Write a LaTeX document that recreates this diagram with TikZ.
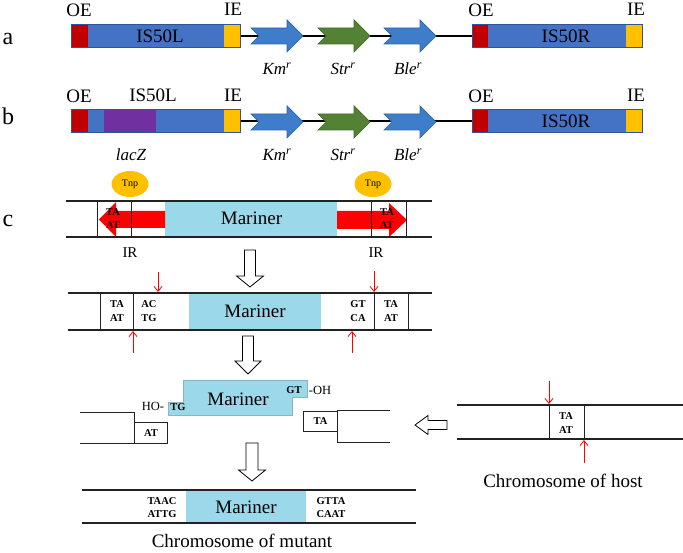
\documentclass[tikz,border=0pt]{standalone}
\usepackage{fontspec}
\setmainfont{LiberationSerif}[Extension=.ttf, UprightFont=*-Regular, BoldFont=*-Bold, ItalicFont=*-Italic, BoldItalicFont=*-BoldItalic]
\usetikzlibrary{shapes.geometric,arrows.meta}
\definecolor{isblue}{HTML}{4472C4}
\definecolor{isborder}{HTML}{2F5597}
\definecolor{isred}{HTML}{C00000}
\definecolor{isyellow}{HTML}{FFC000}
\definecolor{ispurple}{HTML}{7030A0}
\definecolor{kmblue}{HTML}{3D7DCA}
\definecolor{kmborder}{HTML}{2E64A8}
\definecolor{strgreen}{HTML}{548235}
\definecolor{strborder}{HTML}{3F6A27}
\definecolor{marblue}{HTML}{9AD8EA}
\definecolor{tnpgold}{HTML}{FFC000}
\definecolor{dnaline}{HTML}{222222}
\newcommand\myfs[2]{\fontsize{#1}{#2}\selectfont}
\tikzset{
  txt/.style={inner sep=0pt, font=\rmfamily\myfs{19}{19}},
  rowlbl/.style={inner sep=0pt, anchor=base, font=\rmfamily\myfs{24}{24}},
  genelbl/.style={inner sep=0pt, font=\rmfamily\myfs{17}{17}\itshape},
  bp/.style={inner sep=0pt, align=center, font=\rmfamily\myfs{10.5}{14}\bfseries},
  bpc/.style={inner sep=0pt, align=center, font=\rmfamily\myfs{10.5}{13}\bfseries},
  isbox/.style={draw=isborder, line width=0.8pt, fill=isblue, minimum height=23pt, anchor=north west, inner sep=0pt},
  dna/.style={draw=dnaline, line width=1.2pt},
  sepline/.style={draw=dnaline, line width=0.9pt},
  redarr/.style={draw=red, line width=0.8pt, -{Straight Barb[length=5pt,width=8pt]}},
  hollow/.style={draw=black, fill=white, line width=0.8pt, line join=miter},
  pics/gene/.style={code={\draw[pic actions, line width=0.7pt] (0,-8) -- (36,-8) -- (36,-16) -- (52,0) -- (36,16) -- (36,8) -- (0,8) -- (8,0) -- cycle;}}
}
\begin{document}
\begin{tikzpicture}[x=1pt,y=-1pt]
\useasboundingbox (0,0) rectangle (683,553);

% ---------- row a ----------
\node[rowlbl] (la) at (8,45) {a};
\node[isbox, minimum width=169pt] (La) at (71,24) {};
\node[isbox, minimum width=170pt] (Ra) at (472,24) {};
\draw[line width=1.4pt] (La.east) -- (Ra.west);
\fill[isred] (71,24) rectangle (88,47);
\fill[isyellow] (224,24) rectangle (240,47);
\fill[isred] (472,24) rectangle (488,47);
\fill[isyellow] (626,24) rectangle (642,47);
\draw[draw=isborder, line width=0.8pt] (71,24) rectangle (240,47);
\draw[draw=isborder, line width=0.8pt] (472,24) rectangle (642,47);
\node[txt] (tLa) at (160,36) {IS50L};
\node[txt] (tRa) at (566,36) {IS50R};
\node[txt] (oe1) at (79,10) {OE};
\node[txt] (ie1) at (233,9) {IE};
\node[txt] (oe2) at (481,10) {OE};
\node[txt] (ie2) at (636,9) {IE};
\pic[fill=kmblue, draw=kmborder] at (251,36) {gene};
\pic[fill=strgreen, draw=strborder] at (318,36) {gene};
\pic[fill=kmblue, draw=kmborder] at (384,36) {gene};
\node[genelbl] (km1) at (277,69) {Km\textsuperscript{r}};
\node[genelbl] (st1) at (343,69) {Str\textsuperscript{r}};
\node[genelbl] (bl1) at (408,69) {Ble\textsuperscript{r}};

% ---------- row b ----------
\node[rowlbl] (lb) at (8,125) {b};
\node[isbox, minimum width=169pt] (Lb) at (71,109) {};
\node[isbox, minimum width=170pt] (Rb) at (472,109) {};
\draw[line width=1.4pt] (Lb.east) -- (Rb.west);
\fill[isred] (71,109) rectangle (88,132);
\fill[ispurple] (104,109) rectangle (156,132);
\fill[isyellow] (224,109) rectangle (240,132);
\fill[isred] (472,109) rectangle (488,132);
\fill[isyellow] (626,109) rectangle (642,132);
\draw[draw=isborder, line width=0.8pt] (71,109) rectangle (240,132);
\draw[draw=isborder, line width=0.8pt] (472,109) rectangle (642,132);
\node[txt] (tLb) at (153,95) {IS50L};
\node[txt] (tRb) at (566,121) {IS50R};
\node[txt] (oe3) at (79,96) {OE};
\node[txt] (ie3) at (233,95) {IE};
\node[txt] (oe4) at (481,96) {OE};
\node[txt] (ie4) at (636,95) {IE};
\pic[fill=kmblue, draw=kmborder] at (251,122) {gene};
\pic[fill=strgreen, draw=strborder] at (318,122) {gene};
\pic[fill=kmblue, draw=kmborder] at (384,122) {gene};
\node[genelbl] (lacz) at (131,155) {lacZ};
\node[genelbl] (km2) at (277,155) {Km\textsuperscript{r}};
\node[genelbl] (st2) at (343,155) {Str\textsuperscript{r}};
\node[genelbl] (bl2) at (408,155) {Ble\textsuperscript{r}};

% ---------- row c ----------
\node[rowlbl] (lc) at (8,227) {c};
\fill[marblue] (165,201) rectangle (337,237);
\node[txt] (mar1) at (251.5,218) {Mariner};
\fill[red] (165,211) -- (116,211) -- (116,202) -- (99,219.5) -- (116,237) -- (116,228) -- (165,228) -- cycle;
\fill[red] (337,211) -- (389,211) -- (389,203) -- (407,220) -- (389,237) -- (389,229) -- (337,229) -- cycle;
\draw[dna] (66,201) -- (432,201);
\draw[dna] (66,237) -- (432,237);
\foreach \xx in {97,131,371,406} \draw[sepline] (\xx,201) -- (\xx,237);
\node[bpc] (ta1) at (113,219) {TA\\AT};
\node[bpc] (ta2) at (387,219) {TA\\AT};
\node[ellipse, fill=tnpgold, minimum width=37pt, minimum height=26pt, inner sep=0pt, font=\rmfamily\myfs{10}{10}] (tnp1) at (130,184) {Tnp};
\node[ellipse, fill=tnpgold, minimum width=37pt, minimum height=26pt, inner sep=0pt, font=\rmfamily\myfs{10}{10}] (tnp2) at (373,184) {Tnp};
\node[inner sep=0pt, font=\rmfamily\myfs{15}{15}] (ir1) at (130,253) {IR};
\node[inner sep=0pt, font=\rmfamily\myfs{15}{15}] (ir2) at (376,253) {IR};

% hollow down arrow 1
\draw[hollow] (244.5,250) -- (255.5,250) -- (255.5,276) -- (263.5,276) -- (250,287) -- (236.5,276) -- (244.5,276) -- cycle;

% ---------- row 2 ----------
\fill[marblue] (189,293) rectangle (321,330);
\node[txt] (mar2) at (255,311) {Mariner};
\draw[dna] (68,293) -- (432,293);
\draw[dna] (68,330) -- (432,330);
\foreach \xx in {100,133,374,408} \draw[sepline] (\xx,293) -- (\xx,330);
\node[bp] (ta3) at (117,311) {TA\\AT};
\node[bp] (ac) at (149,311) {AC\\TG};
\node[bp] (gt) at (358,311) {GT\\CA};
\node[bp] (ta4) at (391,311) {TA\\AT};
\coordinate (c1s) at (158,272); \coordinate (c1e) at (158,292);
\coordinate (c2s) at (133,353); \coordinate (c2e) at (133,331);
\coordinate (c3s) at (374,271); \coordinate (c3e) at (374,292);
\coordinate (c4s) at (352,353); \coordinate (c4e) at (352,331);
\draw[redarr] (c1s) -- (c1e);
\draw[redarr] (c2s) -- (c2e);
\draw[redarr] (c3s) -- (c3e);
\draw[redarr] (c4s) -- (c4e);

% hollow down arrow 2
\draw[hollow] (242.5,336) -- (253.5,336) -- (253.5,361) -- (261,361) -- (248,374) -- (235,361) -- (242.5,361) -- cycle;

% ---------- row 3 ----------
\fill[marblue, draw=marblue!85!black, line width=0.4pt] (183,380) -- (307,380) -- (307,397) -- (292,397) -- (292,415) -- (168,415) -- (168,402) -- (183,402) -- cycle;
\node[txt] (mar3) at (238,399) {Mariner};
\node[bp] (gt3) at (294,390) {GT};
\node[bp] (tg3) at (178,407) {TG};
\node[inner sep=0pt, font=\rmfamily\myfs{12.5}{12.5}] (oh) at (320,390) {-OH};
\node[inner sep=0pt, font=\rmfamily\myfs{12.5}{12.5}] (ho) at (153,406) {HO-};
% left broken end
\draw[sepline] (80,412) -- (134,412) -- (134,443);
\draw[sepline] (80,443) -- (167,443);
\node[draw=dnaline, line width=0.9pt, minimum width=33pt, minimum height=21pt, inner sep=0pt, anchor=north west, font=\rmfamily\myfs{10.5}{10.5}\bfseries] (at3) at (134,422) {AT};
% right broken end
\node[draw=dnaline, line width=0.9pt, minimum width=34pt, minimum height=20pt, inner sep=0pt, anchor=north west, font=\rmfamily\myfs{10.5}{10.5}\bfseries] (ta5) at (303,411) {TA};
\draw[sepline] (390,410) -- (337,410) -- (337,442) -- (390,442);

% hollow left arrow
\draw[hollow] (447,420.5) -- (428,420.5) -- (428,415.5) -- (415,425) -- (428,434.5) -- (428,429.5) -- (447,429.5) -- cycle;

% host chromosome
\draw[dna] (457,405) -- (683,405);
\draw[dna] (457,439) -- (683,439);
\draw[sepline] (549,405) -- (549,439);
\draw[sepline] (584,405) -- (584,439);
\node[bp] (ta6) at (566,423) {TA\\AT};
\coordinate (h1s) at (549,381); \coordinate (h1e) at (549,404);
\coordinate (h2s) at (584,463); \coordinate (h2e) at (584,440);
\draw[redarr] (h1s) -- (h1e);
\draw[redarr] (h2s) -- (h2e);
\node[txt] (host) at (563,481) {Chromosome of host};

% hollow down arrow 3
\draw[hollow] (246,443) -- (258,443) -- (258,470) -- (265.5,470) -- (252,481) -- (238.5,470) -- (246,470) -- cycle;

% mutant chromosome
\fill[marblue] (186,490) rectangle (306,523);
\node[txt] (mar4) at (246,507) {Mariner};
\draw[dna] (82,490) -- (416,490);
\draw[dna] (82,523) -- (416,523);
\node[bpc] (taac) at (162,507.5) {TAAC\\ATTG};
\node[bpc] (gtta) at (331,507.5) {GTTA\\CAAT};
\node[txt, anchor=base] (mut) at (242,547) {Chromosome of mutant};
\end{tikzpicture}
\end{document}
